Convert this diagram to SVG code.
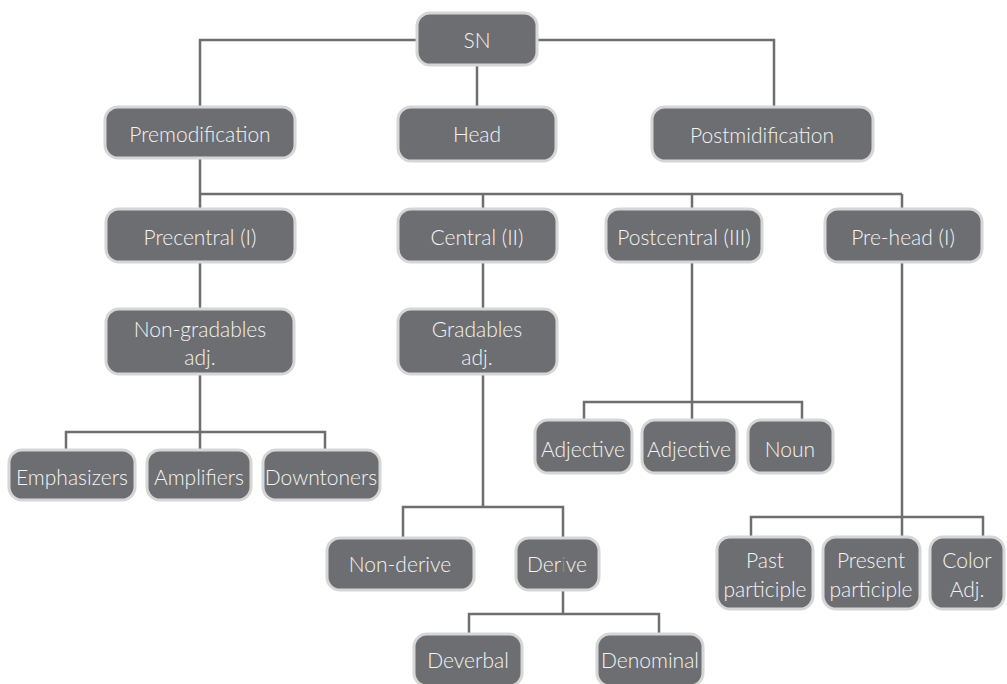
<svg xmlns="http://www.w3.org/2000/svg" width="1007" height="684" viewBox="0 0 1007 684">
  <style>
    .box { fill: #6d6e71; stroke: #d6d6d6; stroke-width: 3; }
    .lbl { fill: #f4f4f4; font-family: Lato, "Open Sans", "Liberation Sans", sans-serif; font-weight: 300; font-size: 21px; text-anchor: middle; }
    .wire { fill: none; stroke: #6d6e71; stroke-width: 2.5; }
  </style>
  <rect width="1007" height="684" fill="#ffffff"/>

  <!-- connectors -->
  <g id="connectors" class="wire">
    <path d="M200 107 V40 H774 V107"/>
    <path d="M477 65 V107"/>
    <path d="M200 158 V209 M200 194 H902 M483 194 V209 M692 194 V209 M902 194 V209"/>
    <path d="M200 262 V309 M200 374 V432 M66 450 V432 H325 V450 M200 432 V450"/>
    <path d="M483 262 V309 M483 374 V507 M403 538 V507 H563 V538"/>
    <path d="M563 590 V614 M469 634 V614 H659 V634"/>
    <path d="M692 262 V402 M584 420 V402 H802 V420 M692 402 V420"/>
    <path d="M902 262 V537 M751 537 V517 H983 V537"/>
  </g>

  <g id="sn"><rect class="box" x="417" y="13" width="120" height="52" rx="13"/><text class="lbl" x="477" y="48">SN</text></g>
  <g id="premodification"><rect class="box" x="105" y="107" width="190" height="51" rx="13"/><text class="lbl" x="200" y="142">Premodification</text></g>
  <g id="head"><rect class="box" x="398" y="107" width="158" height="54" rx="13"/><text class="lbl" x="477" y="142">Head</text></g>
  <g id="postmidification"><rect class="box" x="652" y="107" width="221" height="54" rx="13"/><text class="lbl" x="762" y="143">Postmidification</text></g>

  <g id="precentral"><rect class="box" x="106" y="209" width="189" height="53" rx="13"/><text class="lbl" x="200" y="245">Precentral (I)</text></g>
  <g id="central"><rect class="box" x="398" y="209" width="159" height="53" rx="13"/><text class="lbl" x="477" y="245">Central (II)</text></g>
  <g id="postcentral"><rect class="box" x="606" y="209" width="156" height="53" rx="13"/><text class="lbl" x="684" y="245">Postcentral (III)</text></g>
  <g id="prehead"><rect class="box" x="825" y="209" width="157" height="53" rx="13"/><text class="lbl" x="903" y="245">Pre-head (I)</text></g>

  <g id="nongradables"><rect class="box" x="106" y="309" width="188" height="65" rx="13"/><text class="lbl" x="200" y="337">Non-gradables<tspan x="200" y="365">adj.</tspan></text></g>
  <g id="gradables"><rect class="box" x="398" y="309" width="159" height="65" rx="13"/><text class="lbl" x="477" y="337">Gradables<tspan x="477" y="365">adj.</tspan></text></g>

  <g id="emphasizers"><rect class="box" x="9" y="450" width="126" height="50" rx="13"/><text class="lbl" x="72" y="485">Emphasizers</text></g>
  <g id="amplifiers"><rect class="box" x="147" y="450" width="104" height="50" rx="13"/><text class="lbl" x="199" y="485">Amplifiers</text></g>
  <g id="downtoners"><rect class="box" x="263" y="450" width="117" height="50" rx="13"/><text class="lbl" x="321" y="485">Downtoners</text></g>

  <g id="adjective1"><rect class="box" x="535" y="420" width="97" height="53" rx="13"/><text class="lbl" x="583" y="457">Adjective</text></g>
  <g id="adjective2"><rect class="box" x="642" y="420" width="95" height="53" rx="13"/><text class="lbl" x="689" y="457">Adjective</text></g>
  <g id="noun"><rect class="box" x="748" y="420" width="85" height="53" rx="13"/><text class="lbl" x="790" y="457">Noun</text></g>

  <g id="nonderive"><rect class="box" x="327" y="538" width="147" height="52" rx="13"/><text class="lbl" x="400" y="572">Non-derive</text></g>
  <g id="derive"><rect class="box" x="516" y="538" width="83" height="52" rx="13"/><text class="lbl" x="557" y="572">Der<tspan fill-opacity="0.25">i</tspan>ve</text></g>

  <g id="deverbal"><rect class="box" x="414" y="634" width="108" height="52" rx="13"/><text class="lbl" x="468" y="668">Deverbal</text></g>
  <g id="denominal"><rect class="box" x="597" y="634" width="106" height="52" rx="13"/><text class="lbl" x="650" y="668">Denominal</text></g>

  <g id="pastparticiple"><rect class="box" x="717" y="537" width="96" height="72" rx="13"/><text class="lbl" x="765" y="568">Past<tspan x="765" y="597">participle</tspan></text></g>
  <g id="presentparticiple"><rect class="box" x="823" y="537" width="97" height="72" rx="13"/><text class="lbl" x="871" y="568">Present<tspan x="871" y="597">participle</tspan></text></g>
  <g id="coloradj"><rect class="box" x="930" y="537" width="74" height="72" rx="13"/><text class="lbl" x="967" y="568">Color<tspan x="967" y="597">Adj.</tspan></text></g>
</svg>
